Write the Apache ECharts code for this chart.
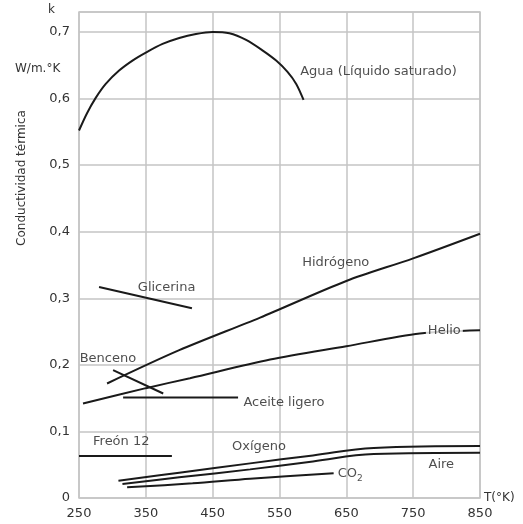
<!DOCTYPE html>
<html>
<head>
<meta charset="utf-8">
<script src="https://cdn.jsdelivr.net/npm/echarts@6/dist/echarts.min.js"></script>
<style>
  html, body { margin: 0; padding: 0; background: #fff; }
  #chart { width: 523px; height: 524px; }
</style>
</head>
<body>
<div id="chart"></div>
<script>
// curves: [T (K), k (W/m.K)]
const agua = [[250,0.552],[262,0.578],[275,0.601],[290,0.622],[310,0.642],[330,0.657],[350,0.669],[375,0.682],[400,0.691],[425,0.697],[450,0.700],[475,0.698],[500,0.688],[525,0.672],[545,0.657],[562,0.640],[575,0.622],[586,0.598]];
const glicerina = [[280,0.317],[419,0.285]];
const hidrogeno = [[292,0.172],[400,0.222],[521,0.271],[650,0.326],[750,0.360],[850,0.397]];
const helio = [[256,0.142],[350,0.165],[416,0.180],[536,0.208],[650,0.228],[760,0.247],[850,0.252]];
const benceno = [[301,0.192],[376,0.157]];
const aceite = [[316,0.151],[488,0.151]];
const freon = [[250,0.063],[389,0.063]];
const oxigeno = [[309,0.026],[400,0.038],[506,0.052],[600,0.064],[691,0.075],[850,0.078]];
const aire = [[315,0.021],[400,0.031],[506,0.043],[600,0.055],[691,0.066],[850,0.068]];
const co2 = [[322,0.016],[420,0.022],[506,0.029],[631,0.037]];

// curve names placed in data coordinates: [T, k, text]
const curveLabels = [
  [581, 0.640, 'Agua (Líquido saturado)'],
  [338, 0.316, 'Glicerina'],
  [584, 0.354, 'Hidrógeno'],
  [251, 0.210, 'Benceno'],
  [496, 0.144, 'Aceite ligero'],
  [271, 0.084, 'Freón 12'],
  [479, 0.077, 'Oxígeno'],
  [637, 0.036, '{a|CO}{s|2}'],
  [773, 0.050, 'Aire']
];
const helioLabel = [[769, 0.252, 'Helio']];

const font = 'DejaVu Sans';
const ink = '#1a1a1a';

function curve(data, smooth) {
  return {
    type: 'line',
    data: data,
    smooth: smooth || false,
    showSymbol: false,
    lineStyle: { color: ink, width: 2 },
    silent: true,
    z: 3
  };
}

const chart = echarts.init(document.getElementById('chart'));
chart.setOption({
  animation: false,
  grid: {
    left: 79, right: 43, top: 12, bottom: 26,
    show: true, borderColor: '#c4c4c4', borderWidth: 1.5
  },
  xAxis: {
    type: 'value', min: 250, max: 850, interval: 100,
    name: 'T(°K)', nameLocation: 'end', nameGap: 4,
    nameTextStyle: { fontFamily: font, fontSize: 12, color: '#333' },
    axisLine: { show: false },
    axisTick: { show: false },
    axisLabel: { fontFamily: font, fontSize: 13, color: '#333', margin: 9 },
    splitLine: { lineStyle: { color: '#c4c4c4', width: 1.5 } }
  },
  yAxis: {
    type: 'value', min: 0, max: 0.73, interval: 0.1,
    axisLine: { show: false },
    axisTick: { show: false },
    axisLabel: {
      fontFamily: font, fontSize: 13, color: '#333', margin: 9,
      formatter: v => v === 0 ? '0' : (v > 0.705 ? '' : v.toFixed(1).replace('.', ','))
    },
    splitLine: { lineStyle: { color: '#c4c4c4', width: 1.5 } }
  },
  graphic: [
    { type: 'text', left: 48, top: 4, style: { text: 'k', font: '12px "DejaVu Sans"', fill: '#333' } },
    { type: 'text', left: 15, top: 63, style: { text: 'W/m.°K', font: '12px "DejaVu Sans"', fill: '#333' } },
    { type: 'text', x: 22, y: 178, rotation: Math.PI / 2,
      style: { text: 'Conductividad térmica', font: '12px "DejaVu Sans"', fill: '#333',
               textAlign: 'center', textVerticalAlign: 'middle' } }
  ],
  series: [
    curve(agua, 0.3),
    curve(glicerina),
    curve(hidrogeno, 0.3),
    curve(helio, 0.3),
    curve(benceno),
    curve(aceite),
    curve(freon),
    curve(oxigeno, 0.4),
    curve(aire, 0.4),
    curve(co2, 0.3),
    {
      type: 'scatter', data: curveLabels, symbolSize: 0, silent: true, z: 4,
      label: {
        show: true, position: 'right', distance: 0,
        fontFamily: font, fontSize: 13, color: '#222',
        formatter: p => p.data[2],
        rich: {
          a: { fontFamily: font, fontSize: 13, color: '#222' },
          s: { fontFamily: font, fontSize: 9, color: '#222', padding: [9, 0, 0, 0] }
        }
      }
    },
    {
      type: 'scatter', data: helioLabel, symbolSize: 0, silent: true, z: 5,
      label: {
        show: true, position: 'right', distance: 0,
        fontFamily: font, fontSize: 13, color: '#222',
        backgroundColor: '#fff', padding: [0, 2],
        formatter: p => p.data[2]
      }
    }
  ]
});
</script>
</body>
</html>
